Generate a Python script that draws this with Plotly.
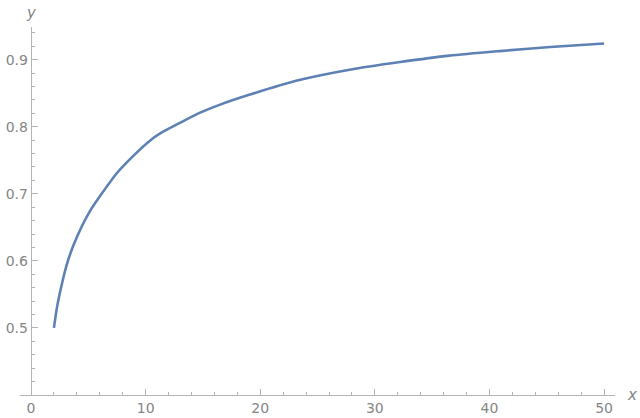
import plotly.graph_objects as go

# values
x_vals = [2, 2.27, 2.70, 3.14, 3.72, 4.45, 5.17, 6.04, 7.5, 8.95, 10.4,
          11.27, 13.02, 14.76, 16.5, 19.1, 23.5, 27.8, 32.2, 36.5, 40.9,
          45.3, 50]
y_vals = [0.5, 0.531, 0.566, 0.5955, 0.624, 0.652, 0.675, 0.697, 0.731,
          0.757, 0.7796, 0.790, 0.806, 0.821, 0.833, 0.848, 0.870, 0.885,
          0.8964, 0.906, 0.9128, 0.9188, 0.924]

x_ticks = [0, 10, 20, 30, 40, 50]
y_ticks = [0.5, 0.6, 0.7, 0.8, 0.9]

axis_color = "#b3b3b3"
label_color = "#858585"
font_family = "DejaVu Sans"

fig = go.Figure()
fig.add_trace(
    go.Scatter(
        x=x_vals,
        y=y_vals,
        mode="lines",
        line=dict(color="#5e81b5", width=2.6, shape="spline", smoothing=0.7),
        hoverinfo="skip",
    )
)

fig.update_layout(
    width=640,
    height=418,
    margin=dict(l=20, r=25, t=27, b=23, autoexpand=False),
    paper_bgcolor="white",
    plot_bgcolor="white",
    showlegend=False,
    font=dict(family=font_family, size=14, color=label_color),
    xaxis=dict(
        range=[-0.96, 50.95],
        tickvals=x_ticks,
        ticktext=[str(v) for v in x_ticks],
        ticks="inside",
        ticklen=6,
        tickcolor=axis_color,
        showline=True,
        linecolor=axis_color,
        linewidth=1,
        showgrid=False,
        zeroline=False,
        automargin=False,
        minor=dict(dtick=2, tick0=0, ticks="inside", ticklen=3.5,
                   tickcolor=axis_color, showgrid=False),
    ),
    yaxis=dict(
        range=[0.4, 0.9487],
        tickvals=y_ticks,
        ticktext=[f"{v:.1f}" for v in y_ticks],
        ticks="inside",
        ticklen=6,
        tickcolor=axis_color,
        showline=True,
        linecolor=axis_color,
        linewidth=1,
        showgrid=False,
        zeroline=False,
        automargin=False,
        anchor="free",
        position=0.018,
        minor=dict(dtick=0.02, tick0=0.4, ticks="inside", ticklen=3.5,
                   tickcolor=axis_color, showgrid=False),
    ),
    annotations=[
        dict(text="<i>y</i>", x=0, xref="x", y=1, yref="paper",
             yanchor="bottom", xanchor="center", yshift=3, showarrow=False,
             font=dict(family=font_family, size=15, color=label_color)),
        dict(text="<i>x</i>", x=1, xref="paper", y=0.4, yref="y",
             xanchor="center", yanchor="middle", xshift=17, showarrow=False,
             font=dict(family=font_family, size=15, color=label_color)),
    ],
)

# the page's default body margin would push the figure 8px off
fig.write_html(
    "out.html",
    config={"displayModeBar": False},
    post_script="document.body.style.margin = '0';",
)
